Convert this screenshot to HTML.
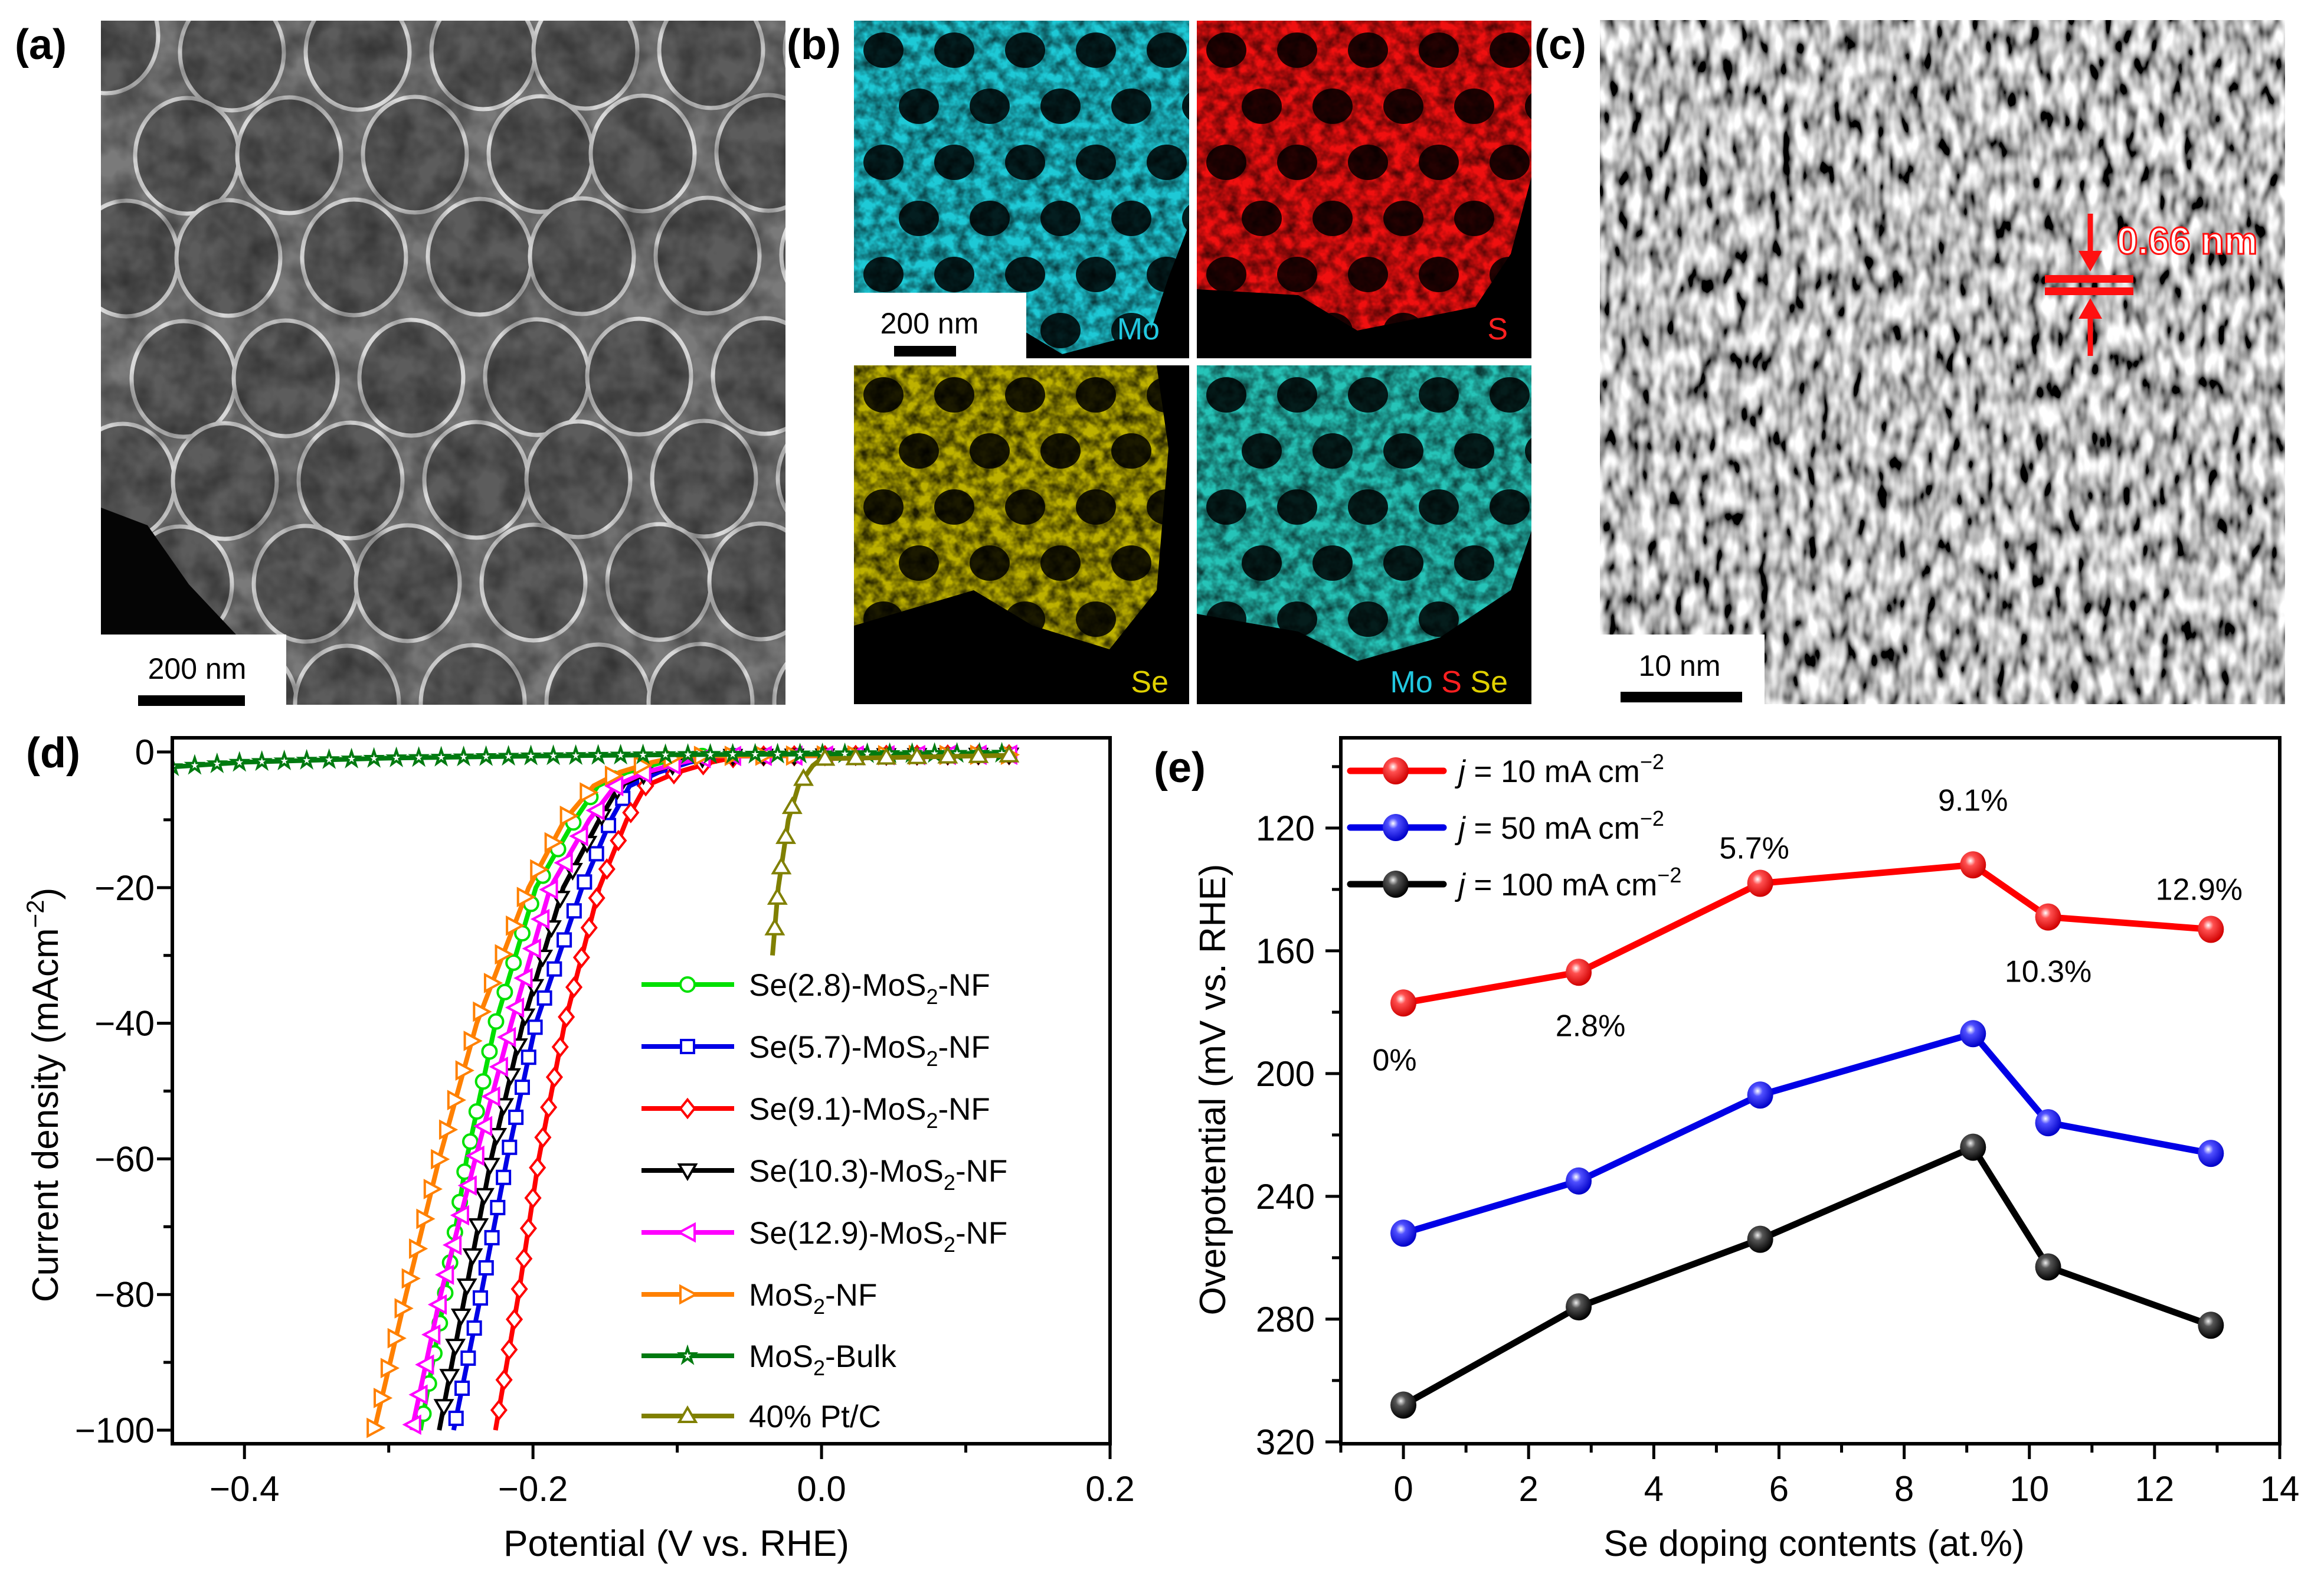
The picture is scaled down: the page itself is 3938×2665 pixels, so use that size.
<!DOCTYPE html>
<html><head><meta charset="utf-8"><style>
html,body{margin:0;padding:0;background:#fff;}
svg{display:block;font-family:"Liberation Sans",Arial,sans-serif;}
</style></head><body>
<svg id="fig" xmlns="http://www.w3.org/2000/svg" width="3938" height="2665" viewBox="0 0 3938 2665">
<defs>
<filter id="semNoise" x="0" y="0" width="100%" height="100%">
<feTurbulence type="fractalNoise" baseFrequency="0.02" numOctaves="3" seed="3"/>
<feColorMatrix type="matrix" values="0 0 0 0 0  0 0 0 0 0  0 0 0 0 0  1.2 0 0 0 -0.35"/>
</filter>
<filter id="mottle" x="0" y="0" width="100%" height="100%">
<feTurbulence type="fractalNoise" baseFrequency="0.05" numOctaves="3" seed="7"/>
<feColorMatrix type="matrix" values="0 0 0 0 0  0 0 0 0 0  0 0 0 0 0  1.8 0 0 0 -0.55"/>
</filter>
<filter id="tem" x="0" y="0" width="100%" height="100%">
<feTurbulence type="fractalNoise" baseFrequency="0.05 0.022" numOctaves="2" seed="11"/>
<feColorMatrix type="matrix" values="2.2 0 0 0 -0.6  2.2 0 0 0 -0.6  2.2 0 0 0 -0.6  0 0 0 0 1"/>
</filter>
<radialGradient id="gRed" cx="0.4" cy="0.35" r="0.65"><stop offset="0" stop-color="#fff"/><stop offset="0.3" stop-color="#ff5050"/><stop offset="1" stop-color="#d00000"/></radialGradient>
<radialGradient id="gBlue" cx="0.4" cy="0.35" r="0.65"><stop offset="0" stop-color="#fff"/><stop offset="0.3" stop-color="#5050ff"/><stop offset="1" stop-color="#0000c8"/></radialGradient>
<radialGradient id="gBlack" cx="0.4" cy="0.35" r="0.65"><stop offset="0" stop-color="#eee"/><stop offset="0.3" stop-color="#555"/><stop offset="1" stop-color="#000"/></radialGradient>
<clipPath id="clipA"><rect x="171" y="35" width="1160" height="1159"/></clipPath>
<clipPath id="clipMo"><rect x="1447" y="35" width="568" height="572"/></clipPath>
<clipPath id="clipS"><rect x="2028" y="35" width="567" height="572"/></clipPath>
<clipPath id="clipSe"><rect x="1447" y="619" width="568" height="574"/></clipPath>
<clipPath id="clipMix"><rect x="2028" y="619" width="567" height="574"/></clipPath>
<clipPath id="clipD"><rect x="292" y="1250" width="1589" height="1196"/></clipPath>
</defs>

<text x="25" y="100" font-size="72" font-weight="bold">(a)</text>
<text x="1333" y="100" font-size="72" font-weight="bold">(b)</text>
<text x="2600" y="100" font-size="72" font-weight="bold">(c)</text>
<text x="44" y="1300" font-size="72" font-weight="bold">(d)</text>
<text x="1955" y="1325" font-size="72" font-weight="bold">(e)</text>

<g id="semImg" clip-path="url(#clipA)">
<rect x="171" y="35" width="1160" height="1159" fill="#7a7a7a"/>
<g id="semPores"></g>
<rect x="171" y="35" width="1160" height="1159" fill="#000" filter="url(#semNoise)" opacity="0.6"/>
<polygon points="171,860 250,890 320,990 400,1075 171,1075" fill="#050505"/>
</g>
<rect x="171" y="1075" width="314" height="119" fill="#fff"/>
<text x="334" y="1150" font-size="50" text-anchor="middle">200 nm</text>
<rect x="234" y="1178" width="181" height="18" fill="#000"/>

<g clip-path="url(#clipMo)">
<rect x="1447" y="35" width="568" height="572" fill="#000"/>
<polygon points="1447,35 2015,35 2015,380 1980,470 1950,560 1800,600 1700,540 1447,500" fill="#1ec9d6"/>
<g class="holes" data-x="1447" data-y="35"></g>
<rect x="1447" y="35" width="568" height="572" fill="#000" filter="url(#mottle)" opacity="0.7"/>
</g>
<g clip-path="url(#clipS)">
<rect x="2028" y="35" width="567" height="572" fill="#000"/>
<polygon points="2028,35 2595,35 2595,300 2560,430 2500,520 2300,560 2200,500 2028,490" fill="#f01010"/>
<g class="holes" data-x="2028" data-y="35"></g>
<rect x="2028" y="35" width="567" height="572" fill="#000" filter="url(#mottle)" opacity="0.7"/>
</g>
<g clip-path="url(#clipSe)">
<rect x="1447" y="619" width="568" height="574" fill="#000"/>
<polygon points="1447,619 1960,619 1980,760 1960,1000 1880,1100 1750,1060 1650,1000 1447,1060" fill="#bdb100"/>
<g class="holes" data-x="1447" data-y="619"></g>
<rect x="1447" y="619" width="568" height="574" fill="#000" filter="url(#mottle)" opacity="0.85"/>
</g>
<g clip-path="url(#clipMix)">
<rect x="2028" y="619" width="567" height="574" fill="#000"/>
<polygon points="2028,619 2595,619 2595,900 2560,1000 2440,1080 2300,1120 2200,1070 2028,1040" fill="#26c4b8"/>
<g class="holes" data-x="2028" data-y="619"></g>
<rect x="2028" y="619" width="567" height="574" fill="#000" filter="url(#mottle)" opacity="0.7"/>
</g>
<rect x="1447" y="496" width="292" height="111" fill="#fff"/>
<text x="1575" y="565" font-size="50" text-anchor="middle">200 nm</text>
<rect x="1515" y="586" width="105" height="18" fill="#000"/>
<text x="1965" y="575" font-size="52" fill="#22c8e0" text-anchor="end">Mo</text>
<text x="2555" y="575" font-size="52" fill="#ff2020" text-anchor="end">S</text>
<text x="1980" y="1173" font-size="52" fill="#e0d000" text-anchor="end">Se</text>
<text x="2555" y="1173" font-size="52" text-anchor="end"><tspan fill="#22c8e0">Mo</tspan> <tspan fill="#ff2020">S</tspan> <tspan fill="#e0d000">Se</tspan></text>

<g>
<rect x="2711" y="34" width="1161" height="1159" fill="#888" filter="url(#tem)"/>
</g>
<rect x="2711" y="1075" width="279" height="118" fill="#fff"/>
<text x="2846" y="1145" font-size="50" text-anchor="middle">10 nm</text>
<rect x="2746" y="1172" width="206" height="18" fill="#000"/>
<g fill="#ff1010" stroke="#ff1010">
<rect x="3465" y="466" width="150" height="13" stroke="none"/>
<rect x="3465" y="487" width="150" height="13" stroke="none"/>
<line x1="3542" y1="362" x2="3542" y2="440" stroke-width="9"/>
<polygon points="3522,425 3562,425 3542,460" stroke="none"/>
<line x1="3542" y1="525" x2="3542" y2="603" stroke-width="9"/>
<polygon points="3522,540 3562,540 3542,505" stroke="none"/>
</g>
<text x="3587" y="430" font-size="64" font-weight="bold" fill="#fff" stroke="#ff1010" stroke-width="3">0.66 nm</text>

<g id="chartD"></g>
<g id="chartE"></g>
</svg>

<script>
const dCurrentLevels = [-0.4, -0.6, -1.5, -3, -5, -10, -20, -40, -60, -80, -100];
const dSeriesNames = ["Se(2.8)-MoS2-NF","Se(5.7)-MoS2-NF","Se(9.1)-MoS2-NF","Se(10.3)-MoS2-NF","Se(12.9)-MoS2-NF","MoS2-NF","MoS2-Bulk","40% Pt/C"];
const dPotSe28  = [0.13, -0.090, -0.110, -0.135, -0.155, -0.171, -0.198, -0.226, -0.246, -0.261, -0.278];
const dPotSe57  = [0.13, -0.071, -0.091, -0.113, -0.133, -0.146, -0.166, -0.198, -0.218, -0.236, -0.255];
const dPotSe91  = [0.13, -0.056, -0.076, -0.100, -0.122, -0.135, -0.154, -0.178, -0.196, -0.210, -0.226];
const dPotSe103 = [0.13, -0.076, -0.096, -0.120, -0.140, -0.154, -0.179, -0.207, -0.229, -0.247, -0.265];
const dPotSe129 = [0.13, -0.076, -0.096, -0.122, -0.143, -0.161, -0.188, -0.215, -0.240, -0.264, -0.284];
const dPotMoS2  = [0.13, -0.097, -0.117, -0.140, -0.158, -0.178, -0.203, -0.239, -0.265, -0.288, -0.310];
const dPotBulk  = [-0.45, -0.40, -0.30, -0.20, -0.10, 0.00, 0.13];
const dCurBulk  = [-2.2, -1.5, -0.9, -0.6, -0.4, -0.3, -0.2];
const dPotPtC   = [0.13, 0.000, -0.006, -0.016, -0.023, -0.030, -0.034];
const dCurPtC   = [-0.5, -1, -2, -5, -10, -20, -30];
const dXTicks = [-0.4, -0.2, 0.0, 0.2];
const dXTickLabels = ["\u22120.4","\u22120.2","0.0","0.2"];
const dYTicks = [0, -20, -40, -60, -80, -100];
const dYTickLabels = ["0","\u221220","\u221240","\u221260","\u221280","\u2212100"];

const eDoping = [0, 2.8, 5.7, 9.1, 10.3, 12.9];
const eEta10  = [177, 167, 138, 132, 149, 153];
const eEta50  = [252, 235, 207, 187, 216, 226];
const eEta100 = [308, 276, 254, 224, 263, 282];
const ePointLabels = ["0%","2.8%","5.7%","9.1%","10.3%","12.9%"];
const eXTicks = [0,2,4,6,8,10,12,14];
const eYTicks = [120,160,200,240,280,320];

const NS = "http://www.w3.org/2000/svg";
function mk(tag, attrs, parent){
  const e = document.createElementNS(NS, tag);
  for (const k in attrs) e.setAttribute(k, attrs[k]);
  parent.appendChild(e);
  return e;
}

(function(){
  const g = document.getElementById("semPores");
  for (let r = 0; r < 7; r++) for (let c = 0; c < 7; c++) {
    const cx = 200 + c*200 + (r%2)*100 + ((r*37+c*53)%40) - 20;
    const cy = 60 + r*185 + ((r*19+c*29)%30);
    const el = mk("ellipse", {cx:cx, cy:cy, rx:88, ry:98, fill:"#5c5c5c", stroke:"#d8d8d8", "stroke-width":7}, g);
    
    
  }
  document.querySelectorAll("g.holes").forEach(function(h){
    const x0 = +h.getAttribute("data-x"), y0 = +h.getAttribute("data-y");
    for (let r = 0; r < 6; r++) for (let c = 0; c < 5; c++) {
      const el = mk("ellipse", {cx: x0 + 50 + c*120 + (r%2)*60, cy: y0 + 50 + r*95, rx: 34, ry: 30, fill:"#000", opacity:"0.85"}, h);
      
      
    }
  });
})();

(function(){
  const g = document.getElementById("chartD");
  const L=292, R=1881, T=1250, B=2446, xmin=-0.45, xmax=0.2, ymin=-102.0, ymax=2.09;
  const X = v => L + (v - xmin)/(xmax - xmin)*(R - L);
  const Y = v => T + (ymax - v)/(ymax - ymin)*(B - T);

  const series = [
    {pot:dPotSe28,  cur:dCurrentLevels, color:"#00e000", marker:"circle"},
    {pot:dPotSe57,  cur:dCurrentLevels, color:"#0000e6", marker:"square"},
    {pot:dPotSe91,  cur:dCurrentLevels, color:"#ff0000", marker:"diamond"},
    {pot:dPotSe103, cur:dCurrentLevels, color:"#000000", marker:"tdown"},
    {pot:dPotSe129, cur:dCurrentLevels, color:"#ff00ff", marker:"tleft"},
    {pot:dPotMoS2,  cur:dCurrentLevels, color:"#ff8000", marker:"tright"},
    {pot:dPotBulk,  cur:dCurBulk,       color:"#007a10", marker:"star"},
    {pot:dPotPtC,   cur:dCurPtC,        color:"#808000", marker:"tup"}
  ];

  function marker(shape, x, y, color, parent){
    const s = 12; let el;
    const st = {fill:"#fff", stroke:color, "stroke-width":4};
    if (shape === "circle") el = mk("circle", Object.assign({cx:x, cy:y, r:s}, st), parent);
    else if (shape === "square") el = mk("rect", Object.assign({x:x-s+1, y:y-s+1, width:2*s-2, height:2*s-2}, st), parent);
    else {
      let pts;
      if (shape === "diamond") pts = [[0,-s-3],[s,0],[0,s+3],[-s,0]];
      if (shape === "tdown") pts = [[-s-2,-s+2],[s+2,-s+2],[0,s+2]];
      if (shape === "tup") pts = [[-s-2,s-2],[s+2,s-2],[0,-s-2]];
      if (shape === "tleft") pts = [[s,-s-2],[s,s+2],[-s-2,0]];
      if (shape === "tright") pts = [[-s,-s-2],[-s,s+2],[s+2,0]];
      if (shape === "star") { pts = []; for (let i=0;i<10;i++){ const a = -Math.PI/2 + i*Math.PI/5; const rr = i%2 ? 5 : 13; pts.push([rr*Math.cos(a), rr*Math.sin(a)]); } }
      el = mk("polygon", Object.assign({points: pts.map(p => (x+p[0])+","+(y+p[1])).join(" ")}, st), parent);
    }
    return el;
  }

  const axes = mk("g", {stroke:"#000", "stroke-width":5, fill:"none"}, g);
  
  
  for (let v = -0.4; v <= 0.2001; v += 0.1) {
    const major = Math.abs(Math.round(v*10) % 2) === 0;
    const t = mk("line", {x1:X(v), x2:X(v), y1:B, y2:B + (major ? 26 : 15)}, axes);
    
    
  }
  for (let v = 0; v >= -100; v -= 10) {
    const major = v % 20 === 0;
    const t = mk("line", {x1:L, x2:L - (major ? 26 : 15), y1:Y(v), y2:Y(v)}, axes);
    
    
  }
  dXTicks.forEach((v,i) => {
    const t = mk("text", {x:X(v), y:2543, "font-size":60, "text-anchor":"middle"}, g);
    t.textContent = dXTickLabels[i];
    
    
  });
  dYTicks.forEach((v,i) => {
    const t = mk("text", {x:262, y:Y(v)+21, "font-size":60, "text-anchor":"end"}, g);
    t.textContent = dYTickLabels[i];
    
    
  });

  const plot = mk("g", {"clip-path":"url(#clipD)"}, g);
  
  
  series.forEach((s, si) => {
    const sg = mk("g", {}, plot);
    
    
    const pts = s.pot.map((p,i) => [X(p), Y(s.cur[i])]);
    const line = mk("polyline", {points: pts.map(p=>p.join(",")).join(" "), fill:"none", stroke:s.color, "stroke-width":8, "stroke-linejoin":"round"}, sg);
    
    
    const spacing = s.marker === "star" ? 38 : 52;
    let carry = 0;
    for (let i = 0; i < pts.length - 1; i++) {
      const [x1,y1] = pts[i], [x2,y2] = pts[i+1];
      const len = Math.hypot(x2-x1, y2-y1);
      let d = carry;
      while (d <= len) {
        const f = len ? d/len : 0;
        const m = marker(s.marker, x1 + (x2-x1)*f, y1 + (y2-y1)*f, s.color, sg);
        
        
        d += spacing;
      }
      carry = d - len;
    }
  });

  const frame = mk("rect", {x:L, y:T, width:R-L, height:B-T, fill:"none", stroke:"#000", "stroke-width":6}, g);
  
  

  const legRows = [1668, 1773, 1878, 1983, 2088, 2193, 2297, 2399];
  const legTexts = [["Se(2.8)-MoS","2","-NF"],["Se(5.7)-MoS","2","-NF"],["Se(9.1)-MoS","2","-NF"],["Se(10.3)-MoS","2","-NF"],["Se(12.9)-MoS","2","-NF"],["MoS","2","-NF"],["MoS","2","-Bulk"],["40% Pt/C","",""]];
  series.forEach((s, r) => {
    const y = legRows[r];
    const lg = mk("g", {}, g);
    
    
    const ln = mk("line", {x1:1087, x2:1244, y1:y, y2:y, stroke:s.color, "stroke-width":8}, lg);
    
    
    const m = marker(s.marker, 1165, y, s.color, lg);
    
    
    const t = mk("text", {x:1269, y:y+19, "font-size":53}, lg);
    
    
    const a = mk("tspan", {}, t); a.textContent = legTexts[r][0];
    if (legTexts[r][1]) {
      const b = mk("tspan", {dy:14, "font-size":36}, t); b.textContent = legTexts[r][1];
      const c = mk("tspan", {dy:-14}, t); c.textContent = legTexts[r][2];
    }
  });

  const xt = mk("text", {x:1146, y:2636, "font-size":62, "text-anchor":"middle"}, g);
  xt.textContent = "Potential (V vs. RHE)";
  
  
  const yt = mk("text", {x:0, y:0, "font-size":62, "text-anchor":"middle", transform:"translate(98,1855) rotate(-90)"}, g);
  
  
  const y1 = mk("tspan", {}, yt); y1.textContent = "Current density (mAcm";
  const y2 = mk("tspan", {dy:-24, "font-size":42}, yt); y2.textContent = "\u22122";
  const y3 = mk("tspan", {dy:24}, yt); y3.textContent = ")";
})();

(function(){
  const g = document.getElementById("chartE");
  const L=2272, R=3863, T=1250, B=2446, xmin=-1, xmax=14, ymin=90.6, ymax=320.6;
  const X = v => L + (v - xmin)/(xmax - xmin)*(R - L);
  const Y = v => T + (v - ymin)/(ymax - ymin)*(B - T);

  const axes = mk("g", {stroke:"#000", "stroke-width":5}, g);
  
  
  for (let v = -1; v <= 14; v++) {
    const major = v % 2 === 0;
    const t = mk("line", {x1:X(v), x2:X(v), y1:B, y2:B + (major ? 26 : 15)}, axes);
    
    
  }
  for (let v = 100; v <= 320; v += 20) {
    const major = v % 40 === 0;
    const t = mk("line", {x1:L, x2:L - (major ? 26 : 15), y1:Y(v), y2:Y(v)}, axes);
    
    
  }
  eXTicks.forEach(v => {
    const t = mk("text", {x:X(v), y:2543, "font-size":60, "text-anchor":"middle"}, g);
    t.textContent = String(v);
    
    
  });
  eYTicks.forEach(v => {
    const t = mk("text", {x:2228, y:Y(v)+21, "font-size":60, "text-anchor":"end"}, g);
    t.textContent = String(v);
    
    
  });

  const ser = [
    {vals:eEta10,  color:"#ff0000", grad:"url(#gRed)"},
    {vals:eEta50,  color:"#0000e6", grad:"url(#gBlue)"},
    {vals:eEta100, color:"#000000", grad:"url(#gBlack)"}
  ];
  ser.forEach((s, si) => {
    const sg = mk("g", {}, g);
    
    
    const ln = mk("polyline", {points: eDoping.map((x,i) => X(x)+","+Y(s.vals[i])).join(" "), fill:"none", stroke:s.color, "stroke-width":11, "stroke-linejoin":"round"}, sg);
    
    
    eDoping.forEach((x,i) => {
      const c = mk("ellipse", {cx:X(x), cy:Y(s.vals[i]), rx:22, ry:23, fill:s.grad}, sg);
      
      
    });
  });

  const labelOffsets = [[-15,96],[20,90],[-10,-60],[0,-110],[0,92],[-20,-68]];
  ePointLabels.forEach((lab,i) => {
    const t = mk("text", {x:X(eDoping[i]) + labelOffsets[i][0], y:Y(eEta10[i]) + labelOffsets[i][1] + 18, "font-size":52, "text-anchor":"middle"}, g);
    t.textContent = lab;
    
    
  });

  const frame = mk("rect", {x:L, y:T, width:R-L, height:B-T, fill:"none", stroke:"#000", "stroke-width":6}, g);
  
  

  const legRows = [1306, 1402, 1498];
  const legVals = ["10","50","100"];
  ser.forEach((s, r) => {
    const y = legRows[r];
    const lg = mk("g", {}, g);
    
    
    const ln = mk("line", {x1:2288, x2:2446, y1:y, y2:y, stroke:s.color, "stroke-width":11, "stroke-linecap":"round"}, lg);
    
    
    const c = mk("ellipse", {cx:2365, cy:y, rx:22, ry:23, fill:s.grad}, lg);
    
    
    const t = mk("text", {x:2471, y:y+19, "font-size":53}, lg);
    
    
    const a = mk("tspan", {"font-style":"italic"}, t); a.textContent = "j";
    const b = mk("tspan", {}, t); b.textContent = " = " + legVals[r] + " mA cm";
    const c2 = mk("tspan", {dy:-22, "font-size":36}, t); c2.textContent = "\u22122";
  });

  const xt = mk("text", {x:3074, y:2636, "font-size":62, "text-anchor":"middle"}, g);
  xt.textContent = "Se doping contents (at.%)";
  
  
  const yt = mk("text", {x:0, y:0, "font-size":62, "text-anchor":"middle", transform:"translate(2076,1846) rotate(-90)"}, g);
  yt.textContent = "Overpotential (mV vs. RHE)";
  
  
})();
</script>
</body></html>
